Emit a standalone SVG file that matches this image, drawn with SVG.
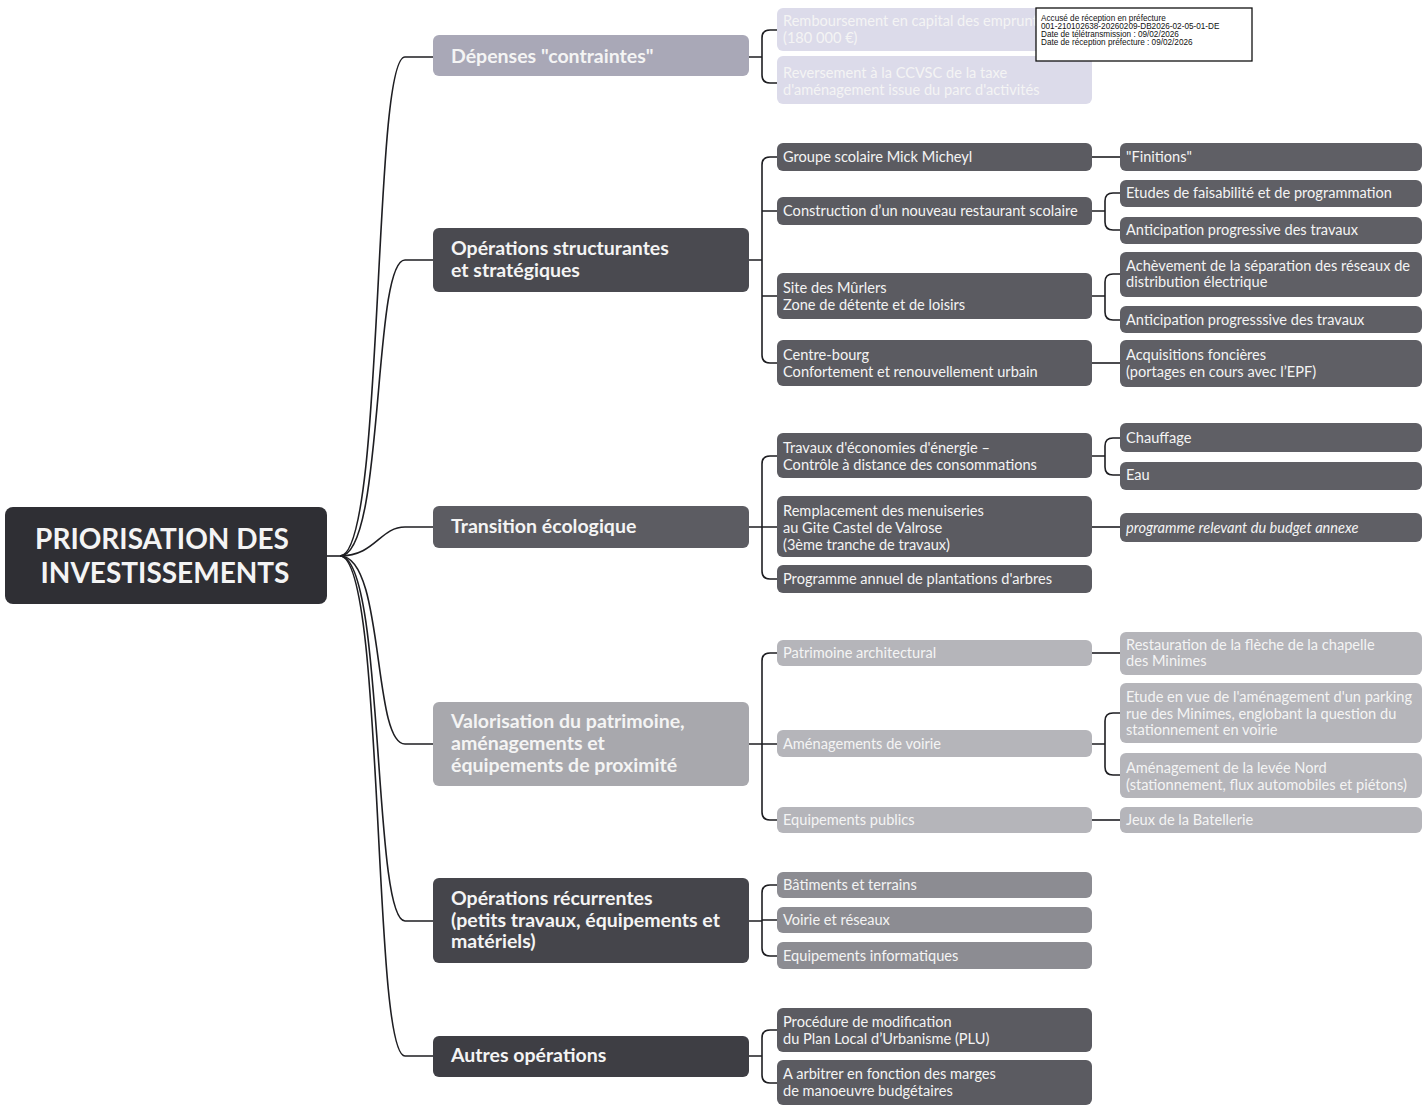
<svg xmlns="http://www.w3.org/2000/svg" width="1423" height="1112" viewBox="0 0 1423 1112">
<style>
.c{fill:none;stroke:#1e1e22;stroke-width:1.6}
.t{font-family:Lato,"Open Sans","Liberation Sans",sans-serif;fill:#f4f4f4}
.t2{font-size:14.6px}
.t1{font-size:19.5px;font-weight:700}
.t0{font-size:28px;font-weight:700;text-anchor:middle}
.st{font-family:"Liberation Sans",Arial,sans-serif;font-size:8.2px;fill:#111}
</style>
<rect width="1423" height="1112" fill="#ffffff"/>
<g id="connectors">
<path class="c" d="M327,556 H340"/>
<path class="c" d="M340,556 C385,556 372,57 405,57 H433"/>
<path class="c" d="M340,556 C385,556 372,260 405,260 H433"/>
<path class="c" d="M340,556 C375,556 380,527 405,527 H433"/>
<path class="c" d="M340,556 C385,556 372,744 405,744 H433"/>
<path class="c" d="M340,556 C385,556 372,921 405,921 H433"/>
<path class="c" d="M340,556 C385,556 372,1056 405,1056 H433"/>
<path class="c" d="M749,57 H762 M777,30 H770 Q762,30 762,38 V75 Q762,83 770,83 H777"/>
<path class="c" d="M749,260 H762 M777,157 H770 Q762,157 762,165 V355 Q762,363 770,363 H777 M762,211 H777 M762,296 H777"/>
<path class="c" d="M1092,157 H1120"/>
<path class="c" d="M1092,211 H1105 M1120,193 H1113 Q1105,193 1105,201 V222 Q1105,230 1113,230 H1120"/>
<path class="c" d="M1092,296 H1105 M1120,274 H1113 Q1105,274 1105,282 V312 Q1105,320 1113,320 H1120"/>
<path class="c" d="M1092,363 H1120"/>
<path class="c" d="M749,527 H762 M777,456 H770 Q762,456 762,464 V571 Q762,579 770,579 H777 M762,527 H777"/>
<path class="c" d="M1092,456 H1105 M1120,438 H1113 Q1105,438 1105,446 V467 Q1105,475 1113,475 H1120"/>
<path class="c" d="M1092,527 H1120"/>
<path class="c" d="M749,744 H762 M777,653 H770 Q762,653 762,661 V812 Q762,820 770,820 H777 M762,744 H777"/>
<path class="c" d="M1092,653 H1120"/>
<path class="c" d="M1092,744 H1105 M1120,713 H1113 Q1105,713 1105,721 V767 Q1105,775 1113,775 H1120"/>
<path class="c" d="M1092,820 H1120"/>
<path class="c" d="M749,921 H762 M777,885 H770 Q762,885 762,893 V948 Q762,956 770,956 H777 M762,920 H777"/>
<path class="c" d="M749,1056 H762 M777,1030 H770 Q762,1030 762,1038 V1075 Q762,1083 770,1083 H777"/>
</g>

<g id="root">
<rect x="5" y="507" width="322" height="97" rx="8" fill="#2f2f34"/>
<text class="t t0" x="162" y="549">PRIORISATION DES</text>
<text class="t t0" x="165" y="583">INVESTISSEMENTS</text>
</g>

<g id="n-depenses">
<rect x="433" y="35" width="316" height="41" rx="6" fill="#a9a8b7"/>
<text class="t t1" x="451" y="63">Dépenses "contraintes"</text>
</g>
<g id="n-dep-1">
<rect x="777" y="8" width="315" height="43" rx="6" fill="#dcdbea"/>
<text class="t t2" x="783" y="26">Remboursement en capital des emprunts</text>
<text class="t t2" x="783" y="43">(180 000 €)</text>
</g>
<g id="n-dep-2">
<rect x="777" y="56" width="315" height="48" rx="6" fill="#dcdbea"/>
<text class="t t2" x="783" y="78">Reversement à la CCVSC de la taxe</text>
<text class="t t2" x="783" y="95">d'aménagement issue du parc d'activités</text>
</g>

<g id="n-struct">
<rect x="433" y="228" width="316" height="64" rx="6" fill="#4a4a50"/>
<text class="t t1" x="451" y="255">Opérations structurantes</text>
<text class="t t1" x="451" y="277">et stratégiques</text>
</g>
<g id="n-groupe">
<rect x="777" y="143" width="315" height="28" rx="6" fill="#5b5b61"/>
<text class="t t2" x="783" y="162">Groupe scolaire Mick Micheyl</text>
</g>
<g id="n-restaurant">
<rect x="777" y="197" width="315" height="28" rx="6" fill="#5b5b61"/>
<text class="t t2" x="783" y="216">Construction d’un nouveau restaurant scolaire</text>
</g>
<g id="n-murlers">
<rect x="777" y="273" width="315" height="46" rx="6" fill="#5b5b61"/>
<text class="t t2" x="783" y="293">Site des Mûrlers</text>
<text class="t t2" x="783" y="310">Zone de détente et de loisirs</text>
</g>
<g id="n-centre">
<rect x="777" y="340" width="315" height="46" rx="6" fill="#5b5b61"/>
<text class="t t2" x="783" y="360">Centre-bourg</text>
<text class="t t2" x="783" y="377">Confortement et renouvellement urbain</text>
</g>
<g id="n-finitions">
<rect x="1120" y="143" width="302" height="28" rx="6" fill="#5f5f65"/>
<text class="t t2" x="1126" y="162">"Finitions"</text>
</g>
<g id="n-etudes">
<rect x="1120" y="180" width="302" height="27" rx="6" fill="#5f5f65"/>
<text class="t t2" x="1126" y="198">Etudes de faisabilité et de programmation</text>
</g>
<g id="n-anticip1">
<rect x="1120" y="217" width="302" height="27" rx="6" fill="#5f5f65"/>
<text class="t t2" x="1126" y="235">Anticipation progressive des travaux</text>
</g>
<g id="n-achevement">
<rect x="1120" y="252" width="302" height="45" rx="6" fill="#5f5f65"/>
<text class="t t2" x="1126" y="271">Achèvement de la séparation des réseaux de</text>
<text class="t t2" x="1126" y="287">distribution électrique</text>
</g>
<g id="n-anticip2">
<rect x="1120" y="306" width="302" height="27" rx="6" fill="#5f5f65"/>
<text class="t t2" x="1126" y="325">Anticipation progresssive des travaux</text>
</g>
<g id="n-acquisitions">
<rect x="1120" y="340" width="302" height="47" rx="6" fill="#5f5f65"/>
<text class="t t2" x="1126" y="360">Acquisitions foncières</text>
<text class="t t2" x="1126" y="377">(portages en cours avec l’EPF)</text>
</g>

<g id="n-transition">
<rect x="433" y="506" width="316" height="42" rx="6" fill="#5c5c62"/>
<text class="t t1" x="451" y="533">Transition écologique</text>
</g>
<g id="n-travaux">
<rect x="777" y="433" width="315" height="45" rx="6" fill="#5b5b61"/>
<text class="t t2" x="783" y="453">Travaux d'économies d'énergie –</text>
<text class="t t2" x="783" y="470">Contrôle à distance des consommations</text>
</g>
<g id="n-menuiseries">
<rect x="777" y="496" width="315" height="61" rx="6" fill="#5b5b61"/>
<text class="t t2" x="783" y="516">Remplacement des menuiseries</text>
<text class="t t2" x="783" y="533">au Gite Castel de Valrose</text>
<text class="t t2" x="783" y="550">(3ème tranche de travaux)</text>
</g>
<g id="n-plantations">
<rect x="777" y="565" width="315" height="28" rx="6" fill="#5b5b61"/>
<text class="t t2" x="783" y="584">Programme annuel de plantations d'arbres</text>
</g>
<g id="n-chauffage">
<rect x="1120" y="423" width="302" height="29" rx="6" fill="#5f5f65"/>
<text class="t t2" x="1126" y="443">Chauffage</text>
</g>
<g id="n-eau">
<rect x="1120" y="462" width="302" height="28" rx="6" fill="#5f5f65"/>
<text class="t t2" x="1126" y="480">Eau</text>
</g>
<g id="n-budget">
<rect x="1120" y="513" width="302" height="29" rx="6" fill="#5f5f65"/>
<text class="t t2" x="1126" y="533" font-style="italic">programme relevant du budget annexe</text>
</g>

<g id="n-valorisation">
<rect x="433" y="702" width="316" height="84" rx="6" fill="#a8a8ad"/>
<text class="t t1" x="451" y="728">Valorisation du patrimoine,</text>
<text class="t t1" x="451" y="750">aménagements et</text>
<text class="t t1" x="451" y="772">équipements de proximité</text>
</g>
<g id="n-patrimoine">
<rect x="777" y="640" width="315" height="26" rx="6" fill="#b5b5ba"/>
<text class="t t2" x="783" y="658">Patrimoine architectural</text>
</g>
<g id="n-voirie">
<rect x="777" y="730" width="315" height="27" rx="6" fill="#b5b5ba"/>
<text class="t t2" x="783" y="749">Aménagements de voirie</text>
</g>
<g id="n-equip-publics">
<rect x="777" y="807" width="315" height="26" rx="6" fill="#b5b5ba"/>
<text class="t t2" x="783" y="825">Equipements publics</text>
</g>
<g id="n-fleche">
<rect x="1120" y="632" width="302" height="43" rx="6" fill="#b5b5ba"/>
<text class="t t2" x="1126" y="650">Restauration de la flèche de la chapelle</text>
<text class="t t2" x="1126" y="666">des Minimes</text>
</g>
<g id="n-parking">
<rect x="1120" y="683" width="302" height="60" rx="6" fill="#b5b5ba"/>
<text class="t t2" x="1126" y="702">Etude en vue de l'aménagement d'un parking</text>
<text class="t t2" x="1126" y="719">rue des Minimes, englobant la question du</text>
<text class="t t2" x="1126" y="735">stationnement en voirie</text>
</g>
<g id="n-levee">
<rect x="1120" y="753" width="302" height="45" rx="6" fill="#b5b5ba"/>
<text class="t t2" x="1126" y="773">Aménagement de la levée Nord</text>
<text class="t t2" x="1126" y="790">(stationnement, flux automobiles et piétons)</text>
</g>
<g id="n-batellerie">
<rect x="1120" y="807" width="302" height="26" rx="6" fill="#b5b5ba"/>
<text class="t t2" x="1126" y="825">Jeux de la Batellerie</text>
</g>

<g id="n-recurrentes">
<rect x="433" y="878" width="316" height="85" rx="6" fill="#45454b"/>
<text class="t t1" x="451" y="905">Opérations récurrentes</text>
<text class="t t1" x="451" y="927">(petits travaux, équipements et</text>
<text class="t t1" x="451" y="948">matériels)</text>
</g>
<g id="n-batiments">
<rect x="777" y="872" width="315" height="26" rx="6" fill="#8c8c92"/>
<text class="t t2" x="783" y="890">Bâtiments et terrains</text>
</g>
<g id="n-voirie-reseaux">
<rect x="777" y="907" width="315" height="26" rx="6" fill="#8c8c92"/>
<text class="t t2" x="783" y="925">Voirie et réseaux</text>
</g>
<g id="n-informatiques">
<rect x="777" y="942" width="315" height="27" rx="6" fill="#8c8c92"/>
<text class="t t2" x="783" y="961">Equipements informatiques</text>
</g>

<g id="n-autres">
<rect x="433" y="1036" width="316" height="41" rx="6" fill="#3e3e44"/>
<text class="t t1" x="451" y="1062">Autres opérations</text>
</g>
<g id="n-plu">
<rect x="777" y="1008" width="315" height="44" rx="6" fill="#5b5b61"/>
<text class="t t2" x="783" y="1027">Procédure de modification</text>
<text class="t t2" x="783" y="1044">du Plan Local d’Urbanisme (PLU)</text>
</g>
<g id="n-arbitrer">
<rect x="777" y="1060" width="315" height="45" rx="6" fill="#5b5b61"/>
<text class="t t2" x="783" y="1079">A arbitrer en fonction des marges</text>
<text class="t t2" x="783" y="1096">de manoeuvre budgétaires</text>
</g>

<g id="stamp">
<rect x="1036" y="8" width="216" height="53" fill="#ffffff" stroke="#111" stroke-width="1.3"/>
<text class="st" x="1041" y="21">Accusé de réception en préfecture</text>
<text class="st" x="1041" y="29">001-210102638-20260209-DB2026-02-05-01-DE</text>
<text class="st" x="1041" y="37">Date de télétransmission : 09/02/2026</text>
<text class="st" x="1041" y="45">Date de réception préfecture : 09/02/2026</text>
</g>
</svg>
